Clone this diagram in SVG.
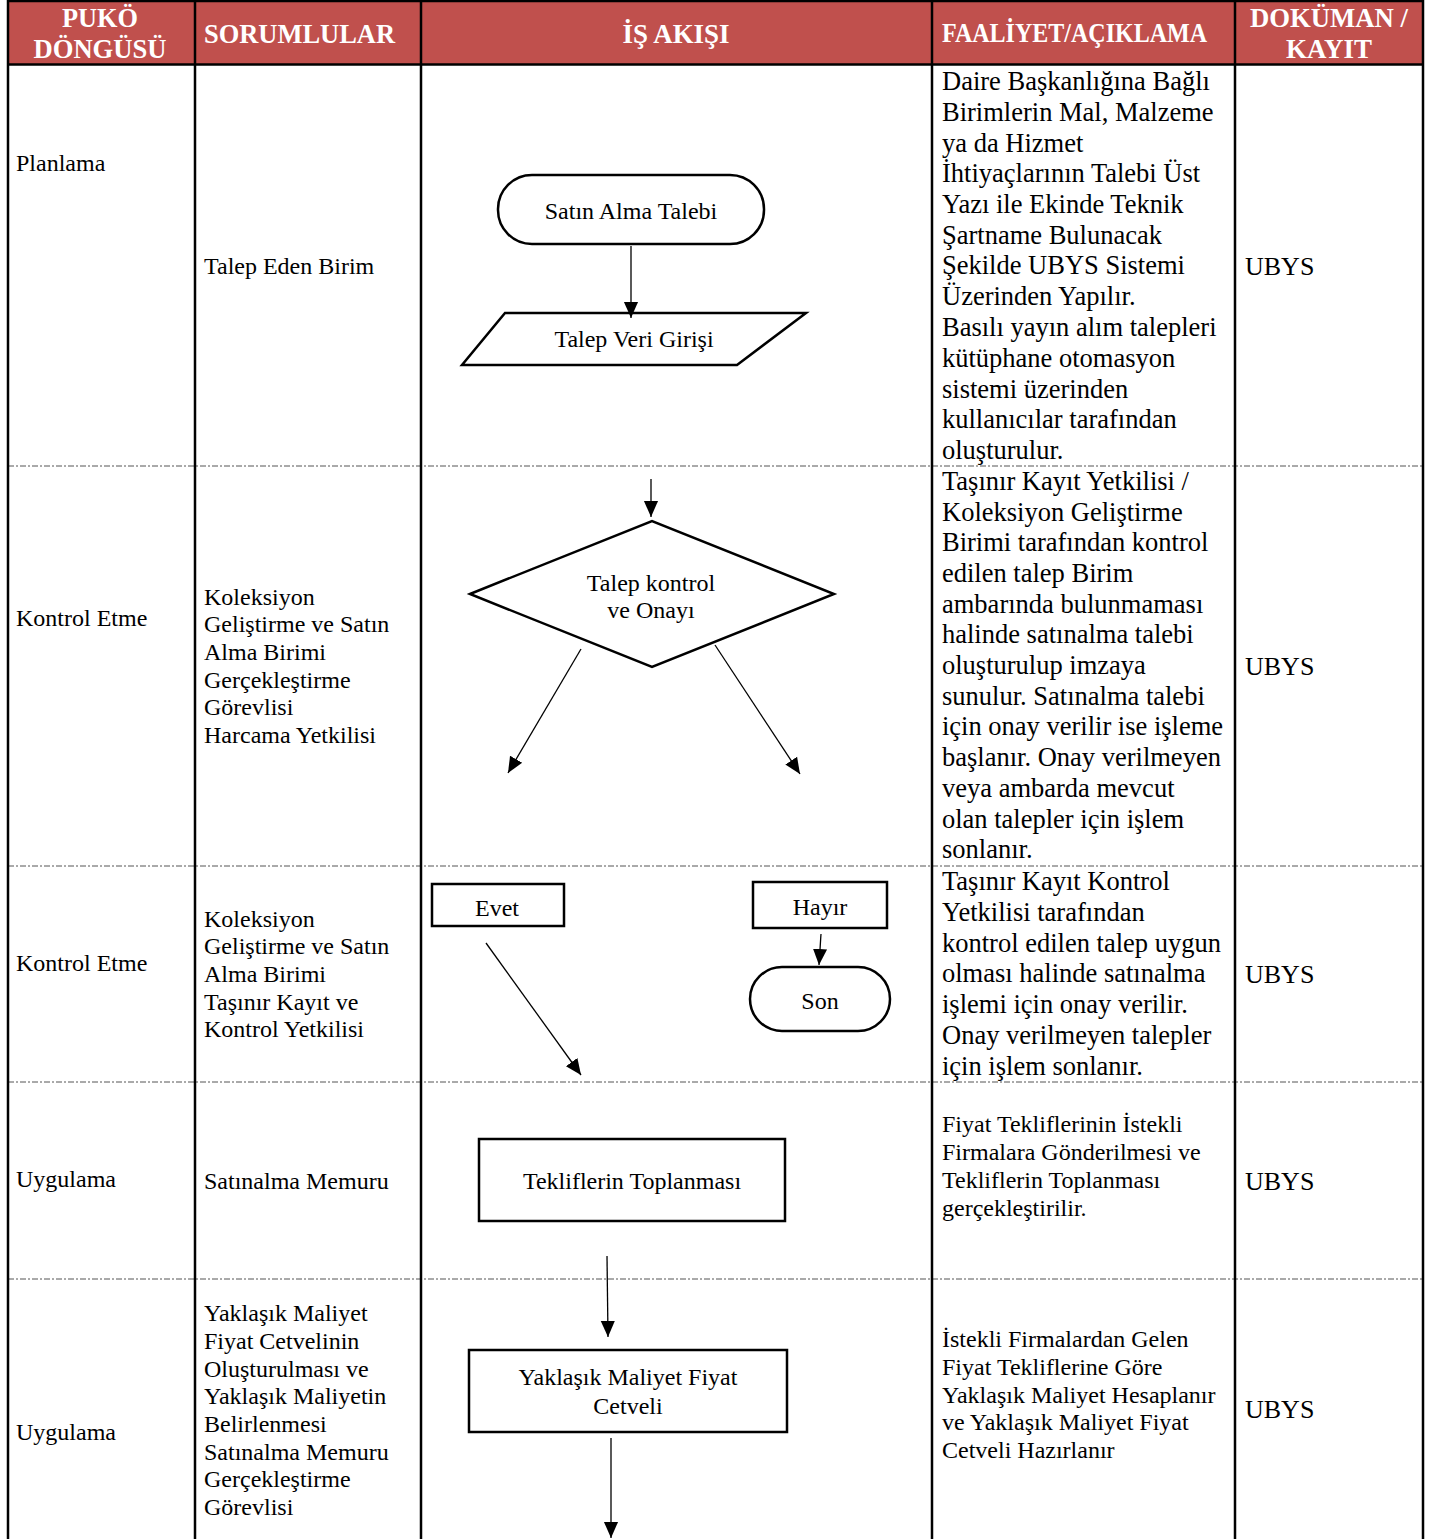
<svg xmlns="http://www.w3.org/2000/svg" width="1435" height="1539" viewBox="0 0 1435 1539">
<defs>
<style>
.t{font-family:"Liberation Serif","Times New Roman",serif;font-size:24px;fill:#000}
.d{font-family:"Liberation Serif","Times New Roman",serif;font-size:26.5px;fill:#000}
.u{font-family:"Liberation Serif","Times New Roman",serif;font-size:26px;fill:#000}
.h{font-family:"Liberation Serif","Times New Roman",serif;font-weight:bold;font-size:27px;fill:#fff}
.c{text-anchor:middle}
.grid{stroke:#000;stroke-width:2.5;fill:none}
.sep{stroke:#555;stroke-width:1;stroke-dasharray:6 2 2 2;fill:none}
.shape{fill:#fff;stroke:#000;stroke-width:2.5}
.edge{stroke:#000;stroke-width:1.3;fill:none;marker-end:url(#ah)}
</style>
<marker id="ah" viewBox="0 0 10 10" refX="10" refY="5" markerWidth="16" markerHeight="16" markerUnits="userSpaceOnUse" orient="auto">
<path d="M0,0.6 L10,5 L0,9.4 z" fill="#000"/>
</marker>
</defs>
<rect x="0" y="0" width="1435" height="1539" fill="#fff"/>
<!-- header -->
<g id="header">
<rect x="8" y="1" width="1415" height="63" fill="#C0504D"/>
<text class="h c" x="100" y="27" textLength="76" lengthAdjust="spacingAndGlyphs">PUKÖ</text>
<text class="h c" x="100" y="58" textLength="133" lengthAdjust="spacingAndGlyphs">DÖNGÜSÜ</text>
<text class="h" x="204" y="43" textLength="191" lengthAdjust="spacingAndGlyphs">SORUMLULAR</text>
<text class="h c" x="676" y="43" textLength="107" lengthAdjust="spacingAndGlyphs">İŞ AKIŞI</text>
<text class="h" x="942" y="42" font-size="24" textLength="265" lengthAdjust="spacingAndGlyphs">FAALİYET/AÇIKLAMA</text>
<text class="h c" x="1329" y="27" textLength="158" lengthAdjust="spacingAndGlyphs">DOKÜMAN /</text>
<text class="h c" x="1329" y="58" textLength="86" lengthAdjust="spacingAndGlyphs">KAYIT</text>
</g>
<!-- grid -->
<g id="grid">
<line class="sep" x1="8" y1="466" x2="1423" y2="466"/>
<line class="sep" x1="8" y1="866" x2="1423" y2="866"/>
<line class="sep" x1="8" y1="1082" x2="1423" y2="1082"/>
<line class="sep" x1="8" y1="1279" x2="1423" y2="1279"/>
<line class="grid" x1="8" y1="1" x2="1423" y2="1"/>
<line class="grid" x1="8" y1="64.5" x2="1423" y2="64.5"/>
<line class="grid" x1="8" y1="0" x2="8" y2="1539"/>
<line class="grid" x1="195" y1="0" x2="195" y2="1539"/>
<line class="grid" x1="421" y1="0" x2="421" y2="1539"/>
<line class="grid" x1="932" y1="0" x2="932" y2="1539"/>
<line class="grid" x1="1235" y1="0" x2="1235" y2="1539"/>
<line class="grid" x1="1423" y1="0" x2="1423" y2="1539"/>
</g>
<!-- row 1 -->
<g id="row1">
<text class="t" x="16" y="171">Planlama</text>
<text class="t" x="204" y="274">Talep Eden Birim</text>
<text class="d" x="942">
<tspan x="942" y="90">Daire Başkanlığına Bağlı</tspan>
<tspan x="942" y="121">Birimlerin Mal, Malzeme</tspan>
<tspan x="942" y="152">ya da Hizmet</tspan>
<tspan x="942" y="182">İhtiyaçlarının Talebi Üst</tspan>
<tspan x="942" y="213">Yazı ile Ekinde Teknik</tspan>
<tspan x="942" y="244">Şartname Bulunacak</tspan>
<tspan x="942" y="274">Şekilde UBYS Sistemi</tspan>
<tspan x="942" y="305">Üzerinden Yapılır.</tspan>
<tspan x="942" y="336">Basılı yayın alım talepleri</tspan>
<tspan x="942" y="367">kütüphane otomasyon</tspan>
<tspan x="942" y="398">sistemi üzerinden</tspan>
<tspan x="942" y="428">kullanıcılar tarafından</tspan>
<tspan x="942" y="459">oluşturulur.</tspan>
</text>
<text class="u" x="1245" y="275">UBYS</text>
</g>
<g id="n-satin-alma-talebi">
<rect class="shape" x="498" y="175" width="266" height="69" rx="34" ry="34"/>
<text class="t c" x="631" y="219">Satın Alma Talebi</text>
</g>
<g id="n-talep-veri-girisi">
<polygon class="shape" points="505,313 806,313 737,365 462,365"/>
<text class="t c" x="634" y="347">Talep Veri Girişi</text>
</g>
<!-- row 2 -->
<g id="row2">
<text class="t" x="16" y="626">Kontrol Etme</text>
<text class="t">
<tspan x="204" y="605">Koleksiyon</tspan>
<tspan x="204" y="632">Geliştirme ve Satın</tspan>
<tspan x="204" y="660">Alma Birimi</tspan>
<tspan x="204" y="688">Gerçekleştirme</tspan>
<tspan x="204" y="715">Görevlisi</tspan>
<tspan x="204" y="743">Harcama Yetkilisi</tspan>
</text>
<text class="d">
<tspan x="942" y="490">Taşınır Kayıt Yetkilisi /</tspan>
<tspan x="942" y="521">Koleksiyon Geliştirme</tspan>
<tspan x="942" y="551">Birimi tarafından kontrol</tspan>
<tspan x="942" y="582">edilen talep Birim</tspan>
<tspan x="942" y="613">ambarında bulunmaması</tspan>
<tspan x="942" y="643">halinde satınalma talebi</tspan>
<tspan x="942" y="674">oluşturulup imzaya</tspan>
<tspan x="942" y="705">sunulur. Satınalma talebi</tspan>
<tspan x="942" y="735">için onay verilir ise işleme</tspan>
<tspan x="942" y="766">başlanır. Onay verilmeyen</tspan>
<tspan x="942" y="797">veya ambarda mevcut</tspan>
<tspan x="942" y="828">olan talepler için işlem</tspan>
<tspan x="942" y="858">sonlanır.</tspan>
</text>
<text class="u" x="1245" y="675">UBYS</text>
</g>
<g id="n-talep-kontrol">
<polygon class="shape" points="470,594 652,521 834,594 652,667"/>
<text class="t c" x="651" y="591">Talep kontrol</text>
<text class="t c" x="651" y="618">ve Onayı</text>
</g>
<!-- row 3 -->
<g id="row3">
<text class="t" x="16" y="971">Kontrol Etme</text>
<text class="t">
<tspan x="204" y="927">Koleksiyon</tspan>
<tspan x="204" y="954">Geliştirme ve Satın</tspan>
<tspan x="204" y="982">Alma Birimi</tspan>
<tspan x="204" y="1010">Taşınır Kayıt ve</tspan>
<tspan x="204" y="1037">Kontrol Yetkilisi</tspan>
</text>
<text class="d">
<tspan x="942" y="890">Taşınır Kayıt Kontrol</tspan>
<tspan x="942" y="921">Yetkilisi tarafından</tspan>
<tspan x="942" y="952">kontrol edilen talep uygun</tspan>
<tspan x="942" y="982">olması halinde satınalma</tspan>
<tspan x="942" y="1013">işlemi için onay verilir.</tspan>
<tspan x="942" y="1044">Onay verilmeyen talepler</tspan>
<tspan x="942" y="1075">için işlem sonlanır.</tspan>
</text>
<text class="u" x="1245" y="983">UBYS</text>
</g>
<g id="n-evet">
<rect class="shape" x="432" y="884" width="132" height="42"/>
<text class="t c" x="497" y="916">Evet</text>
</g>
<g id="n-hayir">
<rect class="shape" x="753" y="882" width="134" height="46"/>
<text class="t c" x="820" y="915">Hayır</text>
</g>
<g id="n-son">
<rect class="shape" x="750" y="967" width="140" height="64" rx="32" ry="32"/>
<text class="t c" x="820" y="1009">Son</text>
</g>
<!-- row 4 -->
<g id="row4">
<text class="t" x="16" y="1187">Uygulama</text>
<text class="t" x="204" y="1189">Satınalma Memuru</text>
<text class="t">
<tspan x="942" y="1132">Fiyat Tekliflerinin İstekli</tspan>
<tspan x="942" y="1160">Firmalara Gönderilmesi ve</tspan>
<tspan x="942" y="1188">Tekliflerin Toplanması</tspan>
<tspan x="942" y="1216">gerçekleştirilir.</tspan>
</text>
<text class="u" x="1245" y="1190">UBYS</text>
</g>
<g id="n-tekliflerin-toplanmasi">
<rect class="shape" x="479" y="1139" width="306" height="82"/>
<text class="t c" x="632" y="1189">Tekliflerin Toplanması</text>
</g>
<!-- row 5 -->
<g id="row5">
<text class="t" x="16" y="1440">Uygulama</text>
<text class="t">
<tspan x="204" y="1321">Yaklaşık Maliyet</tspan>
<tspan x="204" y="1349">Fiyat Cetvelinin</tspan>
<tspan x="204" y="1377">Oluşturulması ve</tspan>
<tspan x="204" y="1404">Yaklaşık Maliyetin</tspan>
<tspan x="204" y="1432">Belirlenmesi</tspan>
<tspan x="204" y="1460">Satınalma Memuru</tspan>
<tspan x="204" y="1487">Gerçekleştirme</tspan>
<tspan x="204" y="1515">Görevlisi</tspan>
</text>
<text class="t">
<tspan x="942" y="1347">İstekli Firmalardan Gelen</tspan>
<tspan x="942" y="1375">Fiyat Tekliflerine Göre</tspan>
<tspan x="942" y="1403">Yaklaşık Maliyet Hesaplanır</tspan>
<tspan x="942" y="1430">ve Yaklaşık Maliyet Fiyat</tspan>
<tspan x="942" y="1458">Cetveli Hazırlanır</tspan>
</text>
<text class="u" x="1245" y="1418">UBYS</text>
</g>
<g id="n-yaklasik-maliyet">
<rect class="shape" x="469" y="1350" width="318" height="82"/>
<text class="t c" x="628" y="1385">Yaklaşık Maliyet Fiyat</text>
<text class="t c" x="628" y="1414">Cetveli</text>
</g>
<!-- connectors -->
<g id="connectors">
<line class="edge" x1="631" y1="246" x2="631" y2="318"/>
<line class="edge" x1="651" y1="479" x2="651" y2="517"/>
<line class="edge" x1="581" y1="649" x2="508" y2="773"/>
<line class="edge" x1="715" y1="645" x2="800" y2="774"/>
<line class="edge" x1="486" y1="943" x2="581" y2="1075"/>
<line class="edge" x1="821" y1="934" x2="819" y2="965"/>
<line class="edge" x1="607" y1="1256" x2="608" y2="1337"/>
<line class="edge" x1="611" y1="1438" x2="611" y2="1538"/>
</g>
</svg>
